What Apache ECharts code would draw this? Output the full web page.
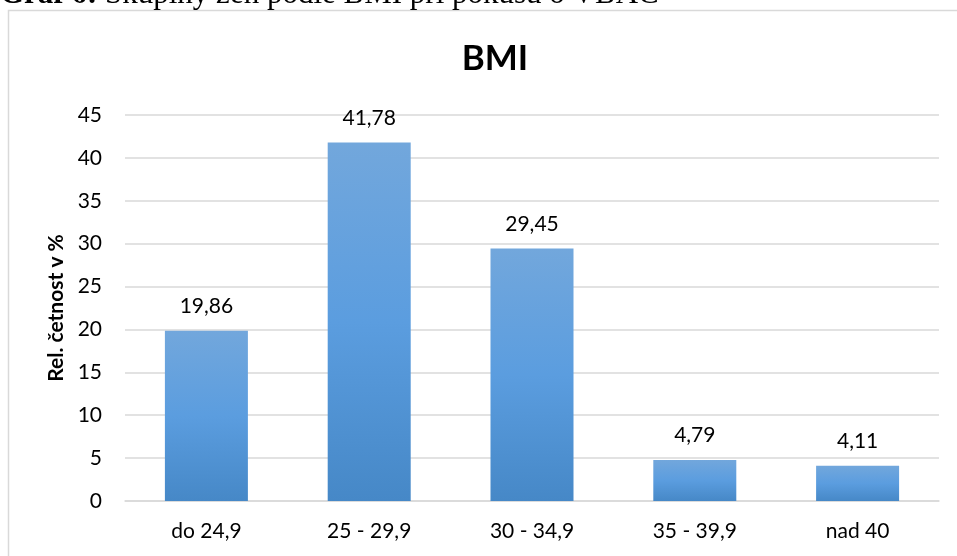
<!DOCTYPE html>
<html>
<head>
<meta charset="utf-8">
<script src="https://cdn.jsdelivr.net/npm/echarts@6/dist/echarts.min.js"></script>
<style>
html,body{margin:0;padding:0;background:#fff;}
#main{width:957px;height:556px;}
</style>
</head>
<body>
<div id="main"></div>
<script>
const categories = ['do 24,9', '25 - 29,9', '30 - 34,9', '35 - 39,9', 'nad 40'];
const values = [19.86, 41.78, 29.45, 4.79, 4.11];
const yTicks = { min: 0, max: 45, interval: 5 };

const chart = echarts.init(document.getElementById('main'), null, { renderer: 'canvas' });
const font = 'Lato, "Noto Sans", sans-serif';
chart.setOption({
  animation: false,
  backgroundColor: '#fff',
  title: {
    text: 'BMI',
    left: 490, top: 36, textAlign: 'center',
    textStyle: { fontFamily: font, fontWeight: 'bold', fontSize: 35, color: '#000' }
  },
  graphic: [
    { type: 'rect', shape: { x: 8.5, y: 10.5, width: 960, height: 560 },
      style: { fill: 'none', stroke: '#d9d9d9', lineWidth: 1.5 }, silent: true },
    { type: 'text', x: 0, y: 10,
      style: { text: '{b|Graf 6:} Skupiny žen podle BMI při pokusu o VBAC',
        verticalAlign: 'bottom', fill: '#000',
        font: '31px "Liberation Serif", serif',
        rich: { b: { fontWeight: 'bold', fontFamily: '"Liberation Serif", serif', fontSize: 31 } } } }
  ],
  grid: { left: 125, right: 18, top: 115, bottom: 55, containLabel: false },
  xAxis: {
    type: 'category', data: categories,
    axisLine: { lineStyle: { color: '#d9d9d9', width: 1.5 } },
    axisTick: { show: false },
    axisLabel: { color: '#000', fontFamily: font, fontSize: 21, margin: 20 }
  },
  yAxis: {
    type: 'value', min: yTicks.min, max: yTicks.max, interval: yTicks.interval,
    name: 'Rel. četnost v %', nameLocation: 'middle', nameGap: 58, nameRotate: 90,
    nameTextStyle: { color: '#000', fontFamily: font, fontWeight: 'bold', fontSize: 21 },
    axisLine: { show: false }, axisTick: { show: false },
    splitLine: { lineStyle: { color: '#d9d9d9', width: 1.5 } },
    axisLabel: { color: '#000', fontFamily: font, fontSize: 21, margin: 23 }
  },
  series: [{
    type: 'bar', data: values, barWidth: 83,
    itemStyle: {
      color: new echarts.graphic.LinearGradient(0, 0, 0, 1, [
        { offset: 0, color: '#72a7dc' },
        { offset: 0.5, color: '#5b9ddf' },
        { offset: 1, color: '#4688c7' }
      ])
    },
    label: {
      show: true, position: 'top', distance: 14, color: '#000',
      fontFamily: font, fontSize: 21,
      formatter: p => String(p.value).replace('.', ',')
    }
  }]
});
</script>
</body>
</html>
